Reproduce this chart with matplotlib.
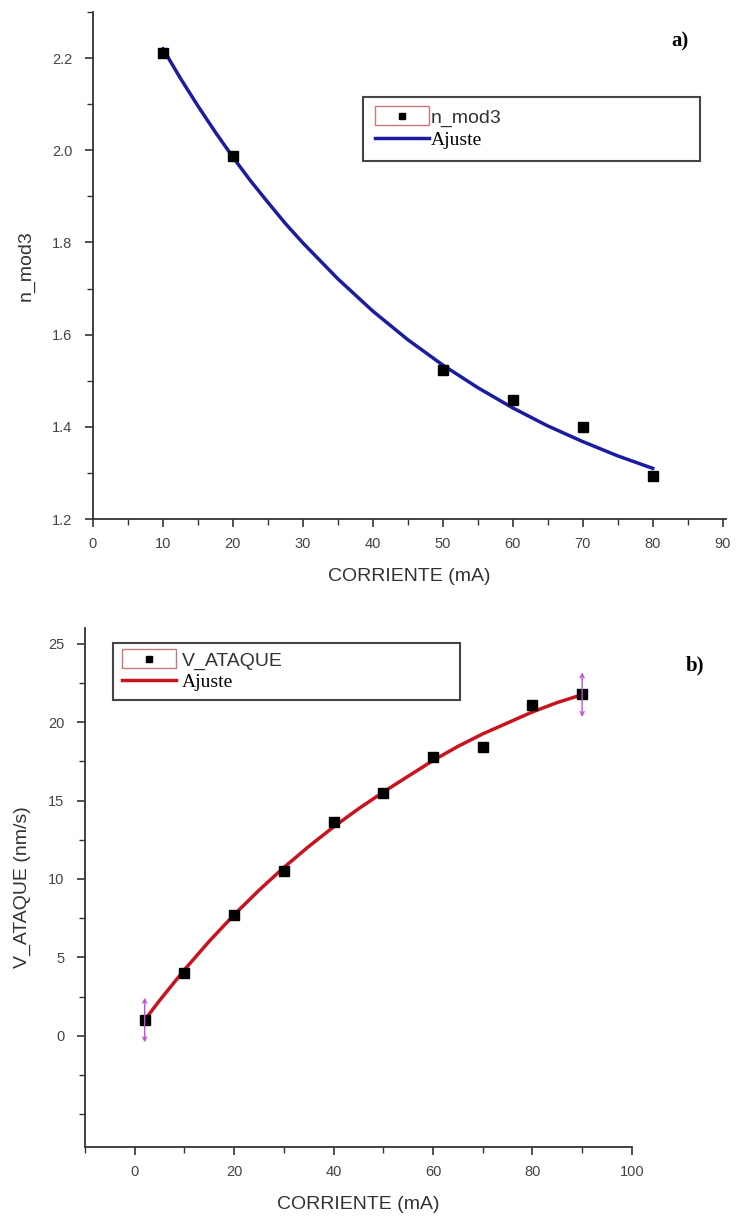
import matplotlib
matplotlib.use('Agg')
import matplotlib.pyplot as plt
from matplotlib.lines import Line2D
from matplotlib.patches import Rectangle
from matplotlib.legend_handler import HandlerBase
from matplotlib.ticker import MultipleLocator

# panel a) data
corriente_a = [10, 20, 50, 60, 70, 80]
n_mod3 = [2.212, 1.988, 1.524, 1.458, 1.399, 1.293]
ajuste_a_x = [10, 12.5, 15, 17.5, 20, 22.5, 25, 27.5, 30, 35, 40, 45, 50, 55, 60,
              65, 70, 75, 80]
ajuste_a_y = [2.220, 2.156, 2.096, 2.039, 1.985, 1.934, 1.887, 1.841, 1.799, 1.721,
              1.651, 1.589, 1.534, 1.485, 1.441, 1.402, 1.368, 1.337, 1.310]

# panel b) data
corriente_b = [2, 10, 20, 30, 40, 50, 60, 70, 80, 90]
v_ataque = [1.0, 4.0, 7.7, 10.5, 13.6, 15.5, 17.8, 18.4, 21.1, 21.8]
ajuste_b_x = [2, 5, 10, 15, 20, 25, 30, 35, 40, 45, 50, 55, 60, 65, 70, 75, 80, 85, 90]
ajuste_b_y = [1.0, 2.25, 4.21, 6.03, 7.72, 9.28, 10.73, 12.07, 13.32, 14.47, 15.54,
              16.55, 17.55, 18.45, 19.25, 19.95, 20.65, 21.25, 21.75]

plt.rcParams['font.family'] = ['Liberation Sans', 'DejaVu Sans']
AXC = '#333333'


class BoxedMarker(HandlerBase):
    # Origin-style legend symbol: small square inside a reddish frame
    def create_artists(self, legend, orig_handle, xdescent, ydescent,
                       width, height, fontsize, trans):
        box = Rectangle((-xdescent, -ydescent - 0.2 * height), width, height * 1.4,
                        fill=False, edgecolor='#c87878', lw=1.0, transform=trans)
        mk = Line2D([width / 2 - xdescent], [height / 2 - ydescent], marker='s',
                    color='k', ms=5, ls='none', transform=trans)
        return [box, mk]


def style_axes(ax):
    for s in ['top', 'right']:
        ax.spines[s].set_visible(False)
    for s in ['left', 'bottom']:
        ax.spines[s].set_color(AXC)
        ax.spines[s].set_linewidth(1.3)
    ax.tick_params(which='both', direction='out', colors=AXC, labelcolor='#444444',
                   labelsize=10.5)
    ax.tick_params(which='major', length=6, width=1.2)
    ax.tick_params(which='minor', length=4, width=1.0)
    ax.tick_params(axis='y', pad=9)
    ax.tick_params(axis='x', pad=7)


fig = plt.figure(figsize=(7.38, 12.19), dpi=100)

# ---- a) ----
ax1 = fig.add_axes([0.126, 0.5742, 0.858, 0.416])
ax1.plot(ajuste_a_x, ajuste_a_y, color='#1c1ca0', lw=2.5)
ax1.plot(corriente_a, n_mod3, 's', color='k', ms=7)
ax1.set_xlim(0, 90.5)
ax1.set_ylim(1.2, 2.3)
ax1.xaxis.set_major_locator(MultipleLocator(10))
ax1.xaxis.set_minor_locator(MultipleLocator(5))
ax1.yaxis.set_minor_locator(MultipleLocator(0.1))
ax1.set_yticks([1.2, 1.4, 1.6, 1.8, 2.0, 2.2])
style_axes(ax1)
ax1.set_xlabel('CORRIENTE (mA)', fontsize=14, color='#333333', labelpad=12)
ax1.set_ylabel('n_mod3', fontsize=14, color='#333333', labelpad=12)

h1 = [Line2D([], [], marker='s'), Line2D([], [], color='#1c1ca0', lw=2.5)]
leg1 = ax1.legend(h1, ['n_mod3', 'Ajuste'], loc='upper left',
                  bbox_to_anchor=(0.4265, 0.708, 0.532, 0.124), mode='expand',
                  handler_map={h1[0]: BoxedMarker()}, fontsize=14, handlelength=2.8,
                  handletextpad=0.1, labelspacing=0.25, borderaxespad=0,
                  borderpad=0.6, fancybox=False, framealpha=1)
leg1.get_frame().set_edgecolor('#444444')
leg1.get_frame().set_linewidth(1.5)
leg1.get_texts()[0].set_color('#333333')
leg1.get_texts()[1].set_family('Liberation Serif')

fig.text(0.921, 0.966, 'a)', fontsize=15, fontweight='bold',
         family='Liberation Serif', ha='center', va='center')

# ---- b) ----
ax2 = fig.add_axes([0.1152, 0.059, 0.741, 0.4258])
ax2.plot(ajuste_b_x, ajuste_b_y, color='#c8141e', lw=2.5)
ax2.plot(corriente_b, v_ataque, 's', color='k', ms=7)
for xe, yc in [(corriente_b[0], ajuste_b_y[0]), (corriente_b[-1], ajuste_b_y[-1])]:
    ax2.annotate('', xy=(xe, yc + 1.6), xytext=(xe, yc - 1.6),
                 arrowprops=dict(arrowstyle='<->', color='#c050d8', lw=1.0,
                                 mutation_scale=7))
ax2.set_xlim(-10, 100)
ax2.set_ylim(-7.1, 26)
ax2.xaxis.set_minor_locator(MultipleLocator(10))
ax2.yaxis.set_minor_locator(MultipleLocator(2.5))
ax2.set_xticks([0, 20, 40, 60, 80, 100])
ax2.set_yticks([0, 5, 10, 15, 20, 25])
style_axes(ax2)
ax2.set_xlabel('CORRIENTE (mA)', fontsize=14, color='#333333', labelpad=12)
ax2.set_ylabel('V_ATAQUE (nm/s)', fontsize=14, color='#333333', labelpad=12)

h2 = [Line2D([], [], marker='s'), Line2D([], [], color='#c8141e', lw=2.5)]
leg2 = ax2.legend(h2, ['V_ATAQUE', 'Ajuste'], loc='upper left',
                  bbox_to_anchor=(0.051, 0.861, 0.635, 0.11), mode='expand',
                  handler_map={h2[0]: BoxedMarker()}, fontsize=14, handlelength=2.8,
                  handletextpad=0.3, labelspacing=0.2, borderaxespad=0,
                  borderpad=0.45, fancybox=False, framealpha=1)
leg2.get_frame().set_edgecolor('#444444')
leg2.get_frame().set_linewidth(1.5)
leg2.get_texts()[0].set_color('#333333')
leg2.get_texts()[1].set_family('Liberation Serif')

fig.text(0.942, 0.454, 'b)', fontsize=15, fontweight='bold',
         family='Liberation Serif', ha='center', va='center')

fig.savefig('out.png', dpi=100)
